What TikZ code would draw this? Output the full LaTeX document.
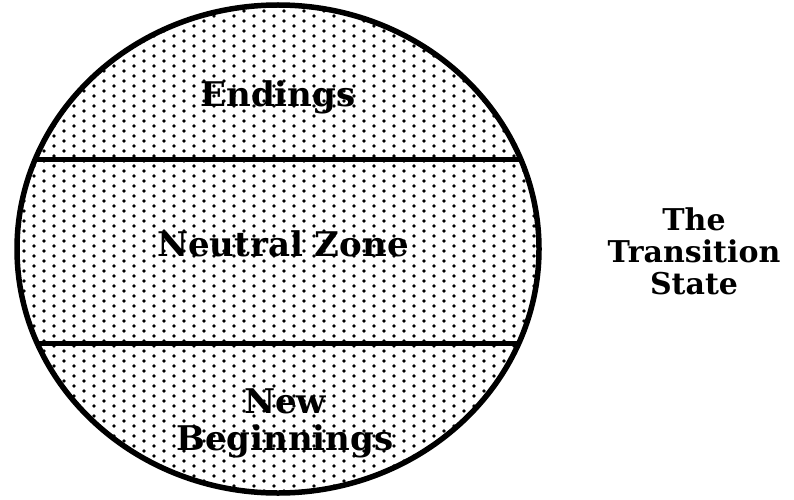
\documentclass[tikz,border=0pt]{standalone}
\usepackage{fontspec}
\setmainfont{DejaVu Serif}
\usetikzlibrary{positioning}

\tikzset{
  zone label/.style={font=\bfseries\fontsize{34}{37}\selectfont, align=center, inner sep=1pt},
  side label/.style={font=\bfseries\fontsize{30}{32}\selectfont, align=center},
  divider/.style={line width=5pt},
  outline/.style={line width=5.5pt}
}

\begin{document}
\begin{tikzpicture}[x=1pt, y=1pt]
        \useasboundingbox (0,0) rectangle (794,499);
        % Dotted fill inside the ellipse
        \begin{scope}
          \clip (278,250) ellipse [x radius=261, y radius=244];
          \foreach \i in {0,...,55}
            \foreach \j in {0,...,50}
              \fill ({4+\i*10}, {3+5*mod(\i+1,2)+\j*10}) circle (1.9);
          \draw[divider] (0,340) -- (560,340);
          \draw[divider] (0,156) -- (560,156);
        \end{scope}
        \draw[outline] (278,250) ellipse [x radius=261, y radius=244];

        % Zone labels
        \node (endings) [zone label] at (278,402) {Endings};
        \node (neutral) [zone label] at (283,255) {Neutral Zone};
        \node (beginnings) [zone label] at (285,76) {New\\Beginnings};

        % Caption
        \node (state) [side label] at (694,248) {The\\Transition\\State};
\end{tikzpicture}
\end{document}
